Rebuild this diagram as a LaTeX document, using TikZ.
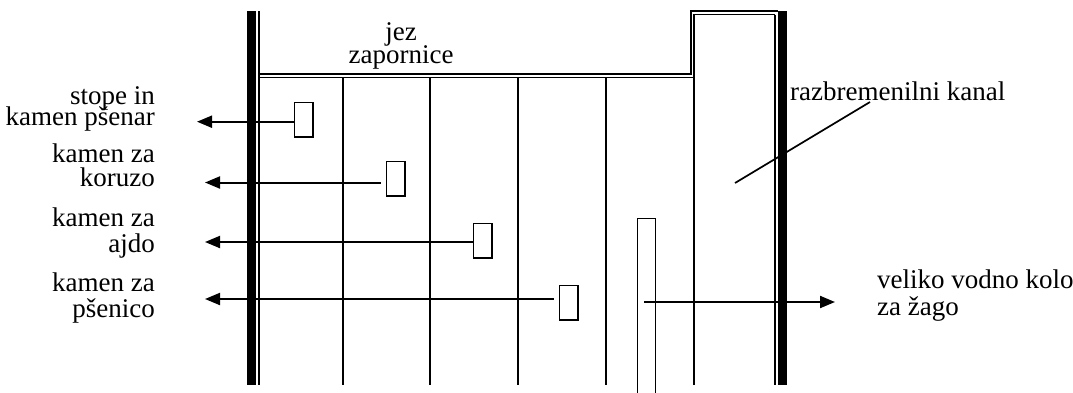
\documentclass[tikz,border=0pt]{standalone}
\usepackage{fontspec}
\setmainfont{Liberation Serif}
\usetikzlibrary{arrows.meta}
\begin{document}
\begin{tikzpicture}[x=1pt,y=-1pt,
  wall/.style={line width=9pt},
  thin/.style={line width=1.7pt},
  gear/.style={draw, line width=1.6pt, minimum width=18.5pt, minimum height=34.5pt, inner sep=0pt, anchor=north west},
  arr/.style={line width=2pt, -{Triangle[length=15pt,width=12pt]}},
  lbl/.style={font={\fontsize{27}{24}\selectfont\lineskiplimit=-50pt}, inner sep=0pt}]
\useasboundingbox (0,0) rectangle (1073,392);
% walls
\draw[wall] (251.5,11) -- (251.5,385);
\draw[thin] (259,11) -- (259,385);
\draw[wall] (782.5,11) -- (782.5,385);
\draw[thin] (775,14.5) -- (775,385);
% weir double line
\draw[thin] (259,74) -- (691,74) -- (691,11) -- (778,11);
\draw[thin] (259,77.5) -- (694,77.5);
\draw[thin] (694,385) -- (694,14.5) -- (775,14.5);
% dividers
\foreach \x in {343,430,518,606} \draw[thin] (\x,77.5) -- (\x,385);
% tall wheel (open at the bottom edge)
\draw[line width=1.6pt] (637.5,395) -- (637.5,218.5) -- (655.5,218.5) -- (655.5,395);
% small wheels
\node[gear] (g1) at (293.8,101.8) {};
\node[gear] (g2) at (385.8,160.8) {};
\node[gear] (g3) at (472.8,222.8) {};
\node[gear] (g4) at (558.8,284.8) {};
% arrow tips
\coordinate (t1) at (197,121.7);
\coordinate (t2) at (205,182.5);
\coordinate (t3) at (205,242);
\coordinate (t4) at (205,299);
\coordinate (w1) at (644,302);
\coordinate (w2) at (835,302);
\draw[arr] (g1.west |- t1) -- (t1);
\draw[arr] ([xshift=-5pt]g2.west |- t2) -- (t2);
\draw[arr] (g3.west |- t3) -- (t3);
\draw[arr] ([xshift=-5pt]g4.west |- t4) -- (t4);
\draw[arr] (w1) -- (w2);
% labels (anchor = baseline of the last line)
\node[lbl, align=right, anchor=base east] (l1) at (155,125) {stope in\\[-3pt]kamen pšenar};
\node[lbl, align=right, anchor=base east] (l2) at (155,186) {kamen za\\koruzo};
\node[lbl, align=right, anchor=base east] (l3) at (155,252) {kamen za\\[2pt]ajdo};
\node[lbl, align=right, anchor=base east] (l4) at (155,317) {kamen za\\[2pt]pšenico};
\node[lbl, align=left, anchor=base west] (l5) at (877,315) {veliko vodno kolo\\[3pt]za žago};
\node[lbl, anchor=base west] (l6) at (790,100) {razbremenilni kanal};
\node[lbl, align=center, anchor=base] (l7) at (401,63) {jez\\[-1pt]zapornice};
% leader line
\coordinate (d1) at (735,183);
\coordinate (d2) at (870,102);
\draw[thin] (d1) -- (d2);
\end{tikzpicture}
\end{document}
